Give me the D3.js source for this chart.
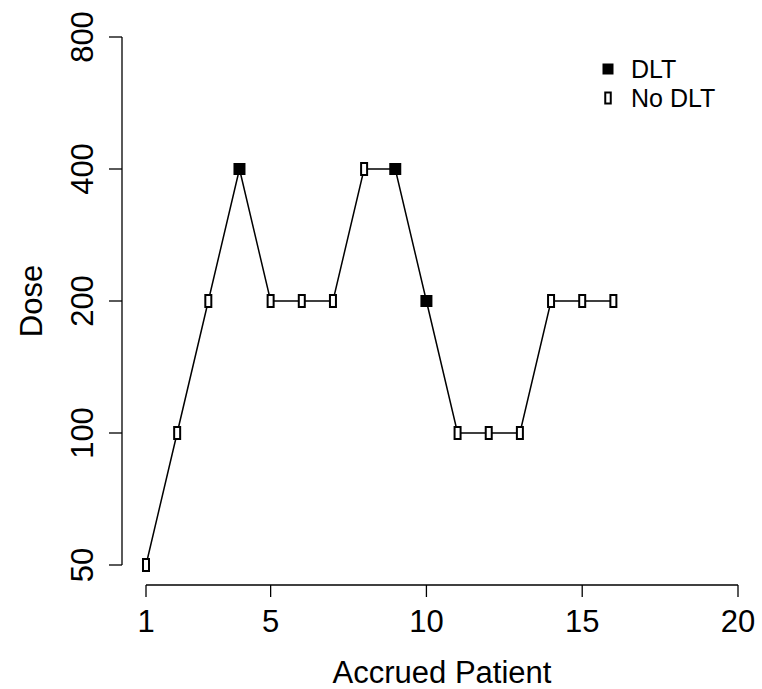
<!DOCTYPE html>
<html>
<head>
<meta charset="utf-8">
<script src="https://cdn.jsdelivr.net/npm/d3@7"></script>
<style>
  body { margin: 0; background: #fff; }
  text { font-family: "Liberation Sans", Arial, Helvetica, sans-serif; fill: #000; }
</style>
</head>
<body>
<div id="chart"></div>
<script>
const patients = [1,2,3,4,5,6,7,8,9,10,11,12,13,14,15,16]
const doses = [50,100,200,400,200,200,200,400,400,200,100,100,100,200,200,200]
const dlt = [0,0,0,1,0,0,0,0,1,1,0,0,0,0,0,0]
const xTicks = [1,5,10,15,20]
const yTicks = [50,100,200,400,800]
const legendLabels = ['DLT', 'No DLT']

const width = 762, height = 689
const fontSize = '31px'

const svg = d3.select('#chart').append('svg')
.attr('width', width)
.attr('height', height)

const x = d3.scaleLinear().domain([1, 20]).range([146, 738])
const y = d3.scaleLog().base(2).domain([50, 800]).range([565, 37])

const data = patients.map((p, i) => ({p: p, dose: doses[i], dlt: dlt[i]}))

// x axis, drawn R style (line only spans the ticks)
const xAxis = svg.append('g').attr('transform', 'translate(0,585)')
xAxis.append('line')
.attr('x1', x(1)).attr('x2', x(20))
.attr('stroke', '#000').attr('stroke-width', 1.3)
xAxis.selectAll('.tick').data(xTicks).join('line')
.attr('x1', d => x(d)).attr('x2', d => x(d))
.attr('y1', 0).attr('y2', 12)
.attr('stroke', '#000').attr('stroke-width', 1.3)
xAxis.selectAll('text').data(xTicks).join('text')
.attr('x', d => x(d)).attr('y', 47)
.attr('text-anchor', 'middle')
.style('font-size', fontSize)
.text(d => d)

svg.append('text')
.attr('x', x(10.5)).attr('y', 683)
.attr('text-anchor', 'middle')
.style('font-size', fontSize)
.text('Accrued Patient')

// y axis
const yAxis = svg.append('g').attr('transform', 'translate(122,0)')
yAxis.append('line')
.attr('y1', y(50)).attr('y2', y(800))
.attr('stroke', '#000').attr('stroke-width', 1.3)
yAxis.selectAll('.tick').data(yTicks).join('line')
.attr('y1', d => y(d)).attr('y2', d => y(d))
.attr('x1', 0).attr('x2', -13)
.attr('stroke', '#000').attr('stroke-width', 1.3)
yAxis.selectAll('text').data(yTicks).join('text')
.attr('transform', d => `translate(-29,${y(d)}) rotate(-90)`)
.attr('text-anchor', 'middle')
.style('font-size', fontSize)
.text(d => d)

svg.append('text')
.attr('transform', `translate(42,${y(200)}) rotate(-90)`)
.attr('text-anchor', 'middle')
.style('font-size', fontSize)
.text('Dose')

// connecting line
const line = d3.line().x(d => x(d.p)).y(d => y(d.dose))
svg.append('path')
.attr('d', line(data))
.attr('fill', 'none')
.attr('stroke', '#000')
.attr('stroke-width', 1.5)

const drawMarker = (g, isDlt, s) => {
	if (isDlt) {
		g.append('rect')
		.attr('x', -s / 2).attr('y', -s / 2).attr('width', s).attr('height', s)
		.attr('fill', '#000')
	} else {
		g.append('rect')
		.attr('x', -s / 4).attr('y', -s / 2).attr('width', s / 2).attr('height', s)
		.attr('fill', '#fff').attr('stroke', '#000').attr('stroke-width', 2)
	}
}

svg.append('g').selectAll('g').data(data).join('g')
.attr('transform', d => `translate(${x(d.p)},${y(d.dose)})`)
.each(function(d) { drawMarker(d3.select(this), d.dlt === 1, 12) })

// legend
const legend = svg.append('g')
legendLabels.forEach((lab, i) => {
	const g = legend.append('g').attr('transform', `translate(608,${69 + i * 29})`)
	drawMarker(g, i === 0, 11)
	g.append('text')
	.attr('x', 23).attr('y', 9)
	.style('font-size', '25px')
	.text(lab)
})
</script>
</body>
</html>
